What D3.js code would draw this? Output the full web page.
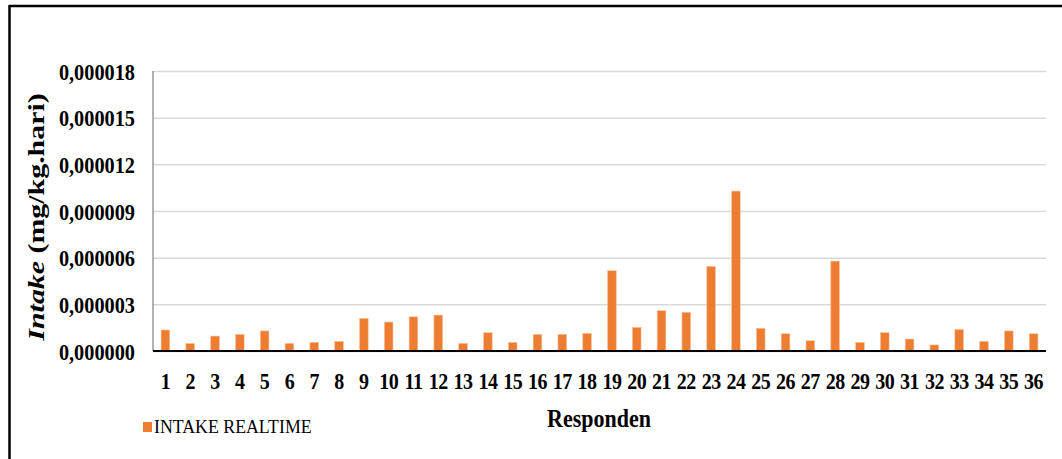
<!DOCTYPE html>
<html>
<head>
<meta charset="utf-8">
<script src="https://cdn.jsdelivr.net/npm/d3@7"></script>
<style>
  html, body { margin: 0; padding: 0; background: #fff; }
  svg { display: block; }
</style>
</head>
<body>
<svg id="chart" width="1062" height="459"></svg>
<script>
// Respondent numbers
const responden = d3.range(1, 37).map(String);

// Realtime intake per respondent (mg/kg.hari)
const intakeRealtime = [
  0.00000135, 0.00000049, 0.00000096, 0.00000107, 0.00000129, 0.00000049,
  0.00000056, 0.00000062, 0.00000210, 0.00000186, 0.00000220, 0.00000231,
  0.00000049, 0.00000118, 0.00000056, 0.00000107, 0.00000107, 0.00000114,
  0.00000516, 0.00000152, 0.00000259, 0.00000249, 0.00000544, 0.00001028,
  0.00000146, 0.00000111, 0.00000066, 0.00000578, 0.00000056, 0.00000118,
  0.00000077, 0.00000039, 0.00000139, 0.00000062, 0.00000129, 0.00000111
];

// Y axis tick values
const yTicks = [0, 0.000003, 0.000006, 0.000009, 0.000012, 0.000015, 0.000018];

const seriesName = "INTAKE REALTIME";
const xTitle = "Responden";

const svg = d3.select("#chart");
const margin = { left: 153, right: 1046, top: 71, bottom: 351 };
const serif = "'Liberation Serif', 'Times New Roman', serif";
const barColor = "#ED7D31";
const stretch = 1.12;

// Outer frame (top and left edges)
svg.append("line").attr("x1", 9).attr("x2", 1062).attr("y1", 6).attr("y2", 6)
  .attr("stroke", "#000").attr("stroke-width", 2.5);
svg.append("line").attr("x1", 9.5).attr("x2", 9.5).attr("y1", 5).attr("y2", 459)
  .attr("stroke", "#000").attr("stroke-width", 2.5);

const x = d3.scaleBand()
  .domain(responden)
  .range([margin.left, margin.right])
  .paddingInner(0.65)
  .paddingOuter(0.325);

const y = d3.scaleLinear()
  .domain([0, 0.000018])
  .range([margin.bottom, margin.top]);

const fmt = v => d3.format(".6f")(v).replace(".", ",");

// Gridlines
const yAxis = d3.axisLeft(y).tickValues(yTicks).tickSize(-(margin.right - margin.left)).tickFormat("");
const gGrid = svg.append("g").attr("transform", `translate(${margin.left},0)`).call(yAxis);
gGrid.select(".domain").remove();
gGrid.selectAll(".tick line").attr("stroke", "#d9d9d9").attr("stroke-width", 1.5);

// Vertical axis line
svg.append("line")
  .attr("x1", margin.left).attr("x2", margin.left)
  .attr("y1", y(0.000018)).attr("y2", y(0))
  .attr("stroke", "#7f7f7f").attr("stroke-width", 1.2);

// Y tick labels
svg.append("g").selectAll("text")
  .data(yTicks)
  .join("text")
  .attr("transform", d => `translate(135,${y(d) + 8.5}) scale(1,${stretch})`)
  .attr("text-anchor", "end")
  .attr("font-family", serif)
  .attr("font-weight", "bold")
  .attr("font-size", 20.3)
  .attr("fill", "#000")
  .text(fmt);

// Bars
svg.append("g").selectAll("rect")
  .data(intakeRealtime)
  .join("rect")
  .attr("x", (d, i) => x(responden[i]))
  .attr("width", x.bandwidth())
  .attr("y", d => y(d))
  .attr("height", d => y(0) - y(d))
  .attr("fill", barColor)
  .attr("stroke", "#f7c3a0")
  .attr("stroke-width", 0.6);

// Baseline
svg.append("line")
  .attr("x1", margin.left).attr("x2", margin.right)
  .attr("y1", y(0)).attr("y2", y(0))
  .attr("stroke", "#000").attr("stroke-width", 2);

// X tick labels
svg.append("g").selectAll("text")
  .data(responden)
  .join("text")
  .attr("transform", d => `translate(${x(d) + x.bandwidth() / 2},389) scale(1,${stretch})`)
  .attr("text-anchor", "middle")
  .attr("font-family", serif)
  .attr("font-weight", "bold")
  .attr("font-size", 20)
  .attr("letter-spacing", -0.5)
  .attr("fill", "#000")
  .text(d => d);

// X axis title
svg.append("text")
  .attr("transform", `translate(599,427) scale(1,${stretch})`)
  .attr("text-anchor", "middle")
  .attr("font-family", serif)
  .attr("font-weight", "bold")
  .attr("font-size", 22)
  .attr("fill", "#000")
  .text(xTitle);

// Y axis title
const yTitle = svg.append("text")
  .attr("transform", `translate(44,217) rotate(-90) scale(1.3,1)`)
  .attr("text-anchor", "middle")
  .attr("font-family", serif)
  .attr("font-weight", "bold")
  .attr("font-size", 23)
  .attr("fill", "#000");
yTitle.append("tspan").attr("font-style", "italic").text("Intake");
yTitle.append("tspan").text(" (mg/kg.hari)");

// Legend
svg.append("rect")
  .attr("x", 143).attr("y", 422).attr("width", 9).attr("height", 10)
  .attr("fill", barColor);
svg.append("text")
  .attr("transform", `translate(154,433) scale(1,1.05)`)
  .attr("font-family", serif)
  .attr("font-size", 17.8)
  .attr("fill", "#000")
  .text(seriesName);
</script>
</body>
</html>
